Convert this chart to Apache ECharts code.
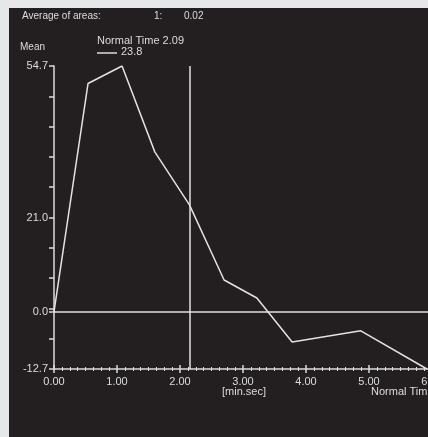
<!DOCTYPE html>
<html>
<head>
<meta charset="utf-8">
<script src="https://cdn.jsdelivr.net/npm/echarts@6/dist/echarts.min.js"></script>
<style>
html,body{margin:0;padding:0;background:#e6e7e8;}
#wrap{position:relative;width:428px;height:437px;background:#e6e7e8;overflow:hidden;}
#panel{position:absolute;left:9px;top:8px;width:419px;height:429px;background:#231f20;}
#chart{position:absolute;left:0;top:0;width:428px;height:437px;}
</style>
</head>
<body>
<div id="wrap"><div id="panel"></div><div id="chart"></div></div>
<script>
// ---- data ----
const timeMin = [0.00, 0.54, 1.08, 1.60, 2.15, 2.70, 3.22, 3.78, 4.87, 5.92];
const meanValues = [0.0, 50.8, 54.7, 35.6, 23.8, 7.1, 3.1, -6.7, -4.2, -12.7];
const yLabelValues = [-12.7, 0.0, 21.0, 54.7];
const xTickLabels = ['0.00', '1.00', '2.00', '3.00', '4.00', '5.00', '6.00'];
const cursorTime = 2.15;       // position of the cursor line
const cursorTimeLabel = '2.09';
const cursorValueLabel = '23.8';
const averageLabel = 'Average of areas:';
const averageIndex = '1:';
const averageValue = '0.02';

const yMin = -12.7, yMax = 54.7, ySplits = 10;
const yStep = (yMax - yMin) / ySplits;
const yTickValues = [];
for (let i = 0; i <= ySplits; i++) yTickValues.push(+(yMin + i * yStep).toFixed(3));
yTickValues.push(0);

const fg = '#dcdcdc';
const font = '"Liberation Sans", Arial, sans-serif';

const chart = echarts.init(document.getElementById('chart'), null, {renderer: 'canvas'});
const seriesData = timeMin.map((t, i) => [t, meanValues[i]]);

chart.setOption({
  backgroundColor: 'transparent',
  animation: false,
  textStyle: {fontFamily: font, color: fg},
  grid: {left: 54, right: -4, top: 66, bottom: 68, containLabel: false, outerBoundsMode: 'none'},
  xAxis: [{
    type: 'value', min: 0, max: 6, interval: 1, position: 'bottom',
    axisLine: {show: true, onZero: false, lineStyle: {color: fg, width: 1.5}},
    axisTick: {show: true, length: 4, lineStyle: {color: fg, width: 1.5}},
    minorTick: {show: true, splitNumber: 8, length: 2, lineStyle: {color: fg, width: 1}},
    splitLine: {show: false},
    axisLabel: {color: fg, fontSize: 11, fontFamily: font, margin: 7,
      formatter: v => xTickLabels[Math.round(v)] || ''}
  }, {
    type: 'value', min: 0, max: 6, interval: 1, position: 'bottom',
    axisLine: {show: false, onZero: false},
    axisTick: {show: true, inside: true, length: 4, lineStyle: {color: fg, width: 1.5}},
    minorTick: {show: true, splitNumber: 8, length: 2, lineStyle: {color: fg, width: 1}},
    splitLine: {show: false},
    axisLabel: {show: false}
  }],
  yAxis: {
    type: 'value', min: yMin, max: yMax, interval: yStep,
    axisLine: {show: true, onZero: false, lineStyle: {color: fg, width: 1.5}},
    axisTick: {show: true, length: 5, customValues: yTickValues, lineStyle: {color: fg, width: 1.5}},
    splitLine: {show: false},
    axisLabel: {color: fg, fontSize: 11, fontFamily: font, margin: 6,
      customValues: yLabelValues, formatter: v => v.toFixed(1)}
  },
  series: [{
    type: 'line', xAxisIndex: 0, data: seriesData, showSymbol: false, symbol: 'none',
    lineStyle: {color: '#e2e2e2', width: 1.5},
    markLine: {
      silent: true, symbol: 'none', animation: false,
      label: {show: false},
      lineStyle: {color: '#e2e2e2', width: 1.5, type: 'solid'},
      data: [{xAxis: cursorTime}, {yAxis: 0}]
    }
  }],
  graphic: [
    {type: 'text', left: 22, top: 11, style: {text: averageLabel, fill: fg, font: '10px ' + font}},
    {type: 'text', left: 154, top: 11, style: {text: averageIndex, fill: fg, font: '10px ' + font}},
    {type: 'text', left: 184, top: 11, style: {text: averageValue, fill: fg, font: '10px ' + font}},
    {type: 'text', left: 20, top: 42, style: {text: 'Mean', fill: fg, font: '10px ' + font}},
    {type: 'text', left: 97, top: 35, style: {text: 'Normal Time ' + cursorTimeLabel, fill: fg, font: '11px ' + font}},
    {type: 'line', shape: {x1: 97, y1: 53, x2: 117, y2: 53}, style: {stroke: fg, lineWidth: 1.5}},
    {type: 'text', left: 121, top: 46, style: {text: cursorValueLabel, fill: fg, font: '11px ' + font}},
    {type: 'text', left: 222, top: 386, style: {text: '[min.sec]', fill: fg, font: '11px ' + font}},
    {type: 'text', left: 371, top: 386, style: {text: 'Normal Time', fill: fg, font: '11px ' + font}}
  ]
});
</script>
</body>
</html>
